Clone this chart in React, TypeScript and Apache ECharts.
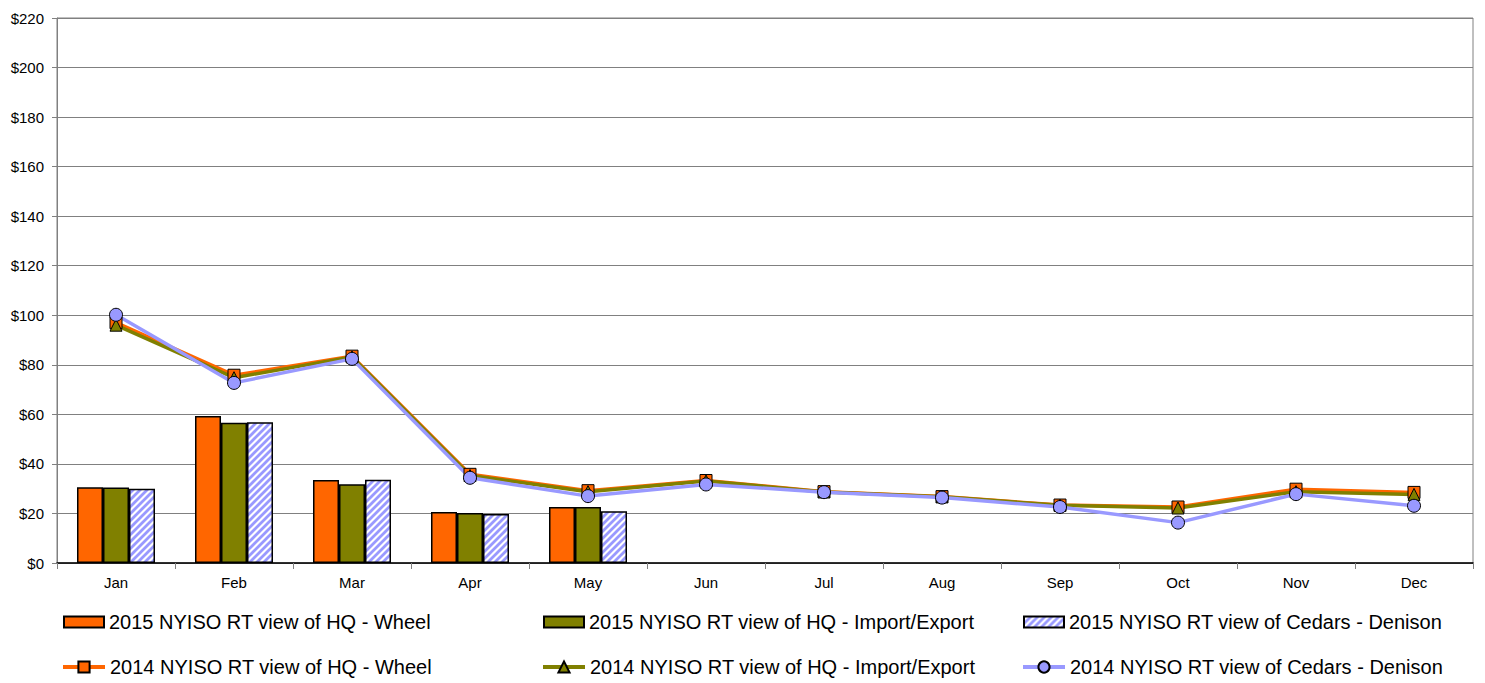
import React, { useEffect, useRef } from "react";
import * as echarts from "echarts";

const months = ["Jan", "Feb", "Mar", "Apr", "May", "Jun", "Jul", "Aug", "Sep", "Oct", "Nov", "Dec"];

const bar2015Wheel = [30.6, 59.3, 33.5, 20.6, 22.6, null, null, null, null, null, null, null];
const bar2015Import = [30.5, 56.6, 31.8, 20.2, 22.6, null, null, null, null, null, null, null];
const bar2015Cedars = [30.0, 56.8, 33.6, 19.8, 20.9, null, null, null, null, null, null, null];

const line2014Wheel = [97.0, 75.8, 83.5, 35.8, 29.2, 33.3, 28.8, 26.8, 23.4, 22.6, 29.8, 28.5];
const line2014Import = [96.0, 74.8, 83.2, 35.3, 28.8, 33.1, 28.7, 26.7, 23.3, 22.2, 28.8, 27.7];
const line2014Cedars = [100.2, 72.7, 82.4, 34.4, 27.0, 31.7, 28.6, 26.4, 22.6, 16.3, 27.8, 23.1];

const seriesNames = [
  "2015 NYISO RT view of HQ - Wheel",
  "2015 NYISO RT view of HQ - Import/Export",
  "2015 NYISO RT view of Cedars - Denison",
  "2014 NYISO RT view of HQ - Wheel",
  "2014 NYISO RT view of HQ - Import/Export",
  "2014 NYISO RT view of Cedars - Denison",
];

const FONT = "'Liberation Sans', Arial, sans-serif";

function makeHatch(): HTMLCanvasElement {
  const s = 7;
  const c = document.createElement("canvas");
  c.width = s;
  c.height = s;
  const ctx = c.getContext("2d")!;
  ctx.fillStyle = "#ffffff";
  ctx.fillRect(0, 0, s, s);
  ctx.strokeStyle = "#9999FF";
  ctx.lineWidth = 2.8;
  ctx.lineCap = "square";
  const seg = (x1: number, y1: number, x2: number, y2: number) => {
    ctx.beginPath();
    ctx.moveTo(x1, y1);
    ctx.lineTo(x2, y2);
    ctx.stroke();
  };
  seg(-1, s + 1, s + 1, -1);
  seg(-s / 2 - 1, s / 2 + 1, s / 2 + 1, -s / 2 - 1);
  seg(s / 2 - 1, s * 1.5 + 1, s * 1.5 + 1, s / 2 - 1);
  return c;
}

export default function App() {
  const ref = useRef<HTMLDivElement>(null);

  useEffect(() => {
    document.body.style.margin = "0";
    if (!ref.current) return;
    const chart = echarts.init(ref.current, undefined, { renderer: "svg" });
    const hatch = makeHatch();

    const legendPos = [
      [63, 612],
      [543, 612],
      [1023, 612],
      [61, 657],
      [541, 657],
      [1021, 657],
    ];

    const legends = seriesNames.map((name, i) => {
      const isBar = i < 3;
      return {
        data: isBar ? [{ name, icon: "rect" }] : [name],
        left: legendPos[i][0],
        top: legendPos[i][1],
        padding: 0,
        itemWidth: isBar ? 40 : 42,
        itemHeight: isBar ? 11 : 14,
        itemGap: 2,
        selectedMode: false,
        lineStyle: isBar ? undefined : { width: 4 },
        textStyle: { fontSize: 20, fontFamily: FONT, color: "#000" },
      };
    });

    const barBase = {
      type: "bar",
      barWidth: 26,
      barGap: "0%",
      z: 2,
    };

    const lineBase = {
      type: "line",
      z: 5,
    };

    chart.setOption({
      animation: false,
      backgroundColor: "#ffffff",
      grid: {
        left: 57,
        right: 12,
        top: 18,
        bottom: 120,
        show: true,
        borderColor: "#808080",
        borderWidth: 1,
        backgroundColor: "transparent",
      },
      legend: legends,
      xAxis: {
        type: "category",
        data: months,
        boundaryGap: true,
        axisLine: { show: true, lineStyle: { color: "#000", width: 1.5 } },
        axisTick: { show: true, length: 6, lineStyle: { color: "#808080" } },
        axisLabel: { color: "#000", fontSize: 15, fontFamily: FONT, margin: 12 },
        splitLine: { show: false },
      },
      yAxis: {
        type: "value",
        min: 0,
        max: 220,
        interval: 20,
        axisLine: { show: true, lineStyle: { color: "#808080" } },
        axisTick: { show: true, length: 5, lineStyle: { color: "#808080" } },
        axisLabel: {
          color: "#000",
          fontSize: 15,
          fontFamily: FONT,
          margin: 13,
          formatter: (v: number) => "$" + v,
        },
        splitLine: { show: true, lineStyle: { color: "#808080", width: 1 } },
      },
      series: [
        {
          ...barBase,
          name: seriesNames[0],
          data: bar2015Wheel,
          itemStyle: { color: "#FF6600", borderColor: "#000", borderWidth: 1.5 },
        },
        {
          ...barBase,
          name: seriesNames[1],
          data: bar2015Import,
          itemStyle: { color: "#808000", borderColor: "#000", borderWidth: 1.5 },
        },
        {
          ...barBase,
          name: seriesNames[2],
          data: bar2015Cedars,
          itemStyle: {
            color: { image: hatch, repeat: "repeat" },
            borderColor: "#000",
            borderWidth: 1.5,
          },
        },
        {
          ...lineBase,
          name: seriesNames[3],
          data: line2014Wheel,
          symbol: "rect",
          symbolSize: 12,
          lineStyle: { color: "#FF6600", width: 3.5 },
          itemStyle: { color: "#FF6600", borderColor: "#000", borderWidth: 1 },
        },
        {
          ...lineBase,
          name: seriesNames[4],
          data: line2014Import,
          symbol: "triangle",
          symbolSize: 12,
          lineStyle: { color: "#808000", width: 3.5 },
          itemStyle: { color: "#808000", borderColor: "#000", borderWidth: 1 },
        },
        {
          ...lineBase,
          name: seriesNames[5],
          data: line2014Cedars,
          symbol: "circle",
          symbolSize: 13,
          lineStyle: { color: "#9999FF", width: 3.5 },
          itemStyle: { color: "#9999FF", borderColor: "#000", borderWidth: 1 },
        },
      ],
    });

    return () => chart.dispose();
  }, []);

  return <div ref={ref} style={{ width: 1485, height: 683 }} />;
}
